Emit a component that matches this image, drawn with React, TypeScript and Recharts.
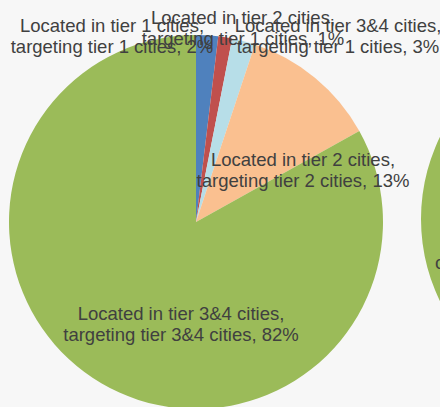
import React from "react";
import { PieChart, Pie, Cell } from "recharts";

// Data
const categories = [
  "Located in tier 1 cities, targeting tier 1 cities",
  "Located in tier 2 cities, targeting tier 1 cities",
  "Located in tier 3&4 cities, targeting tier 1 cities",
  "Located in tier 2 cities, targeting tier 2 cities",
  "Located in tier 3&4 cities, targeting tier 3&4 cities",
];
const values = [1.9, 1.2, 2.0, 11.8, 83.1];
const labelLines: string[][] = [
  ["Located in tier 1 cities,", "targeting tier 1 cities, 2%"],
  ["Located in tier 2 cities,", "targeting tier 1 cities, 1%"],
  ["Located in tier 3&4 cities,", "targeting tier 1 cities, 3%"],
  ["Located in tier 2 cities,", "targeting tier 2 cities, 13%"],
  ["Located in tier 3&4 cities,", "targeting tier 3&4 cities, 82%"],
];
// second (clipped) pie on the right
const secondCategories = ["Second pie"];
const secondValues = [100];
const secondLabel = "cities,";

// Styles
const COLORS = ["#4F81BD", "#C0504D", "#B7DEE8", "#FAC090", "#9BBB59"];
const LABEL_OFFSETS = [
  [-84, -186],
  [47, -194.5],
  [142, -186.5],
  [107, -52.5],
  [-15, 101.5],
];
const FONT = "'Liberation Sans', Arial, sans-serif";
const FONT_SIZE = 18.5;
const TEXT_COLOR = "#404040";

const data = categories.map((name, i) => ({ name, value: values[i] }));
const data2 = secondCategories.map((name, i) => ({ name, value: secondValues[i] }));

const renderLabel = (props: any) => {
  const { cx, cy, index } = props;
  const [dx, dy] = LABEL_OFFSETS[index];
  const lines = labelLines[index];
  const x = cx + dx;
  const y = cy + dy;
  return (
    <text
      x={x}
      y={y}
      textAnchor="middle"
      fill={TEXT_COLOR}
      fontFamily={FONT}
      fontSize={FONT_SIZE}
    >
      <tspan x={x} y={y - 10.5} dominantBaseline="central">
        {lines[0]}
      </tspan>
      <tspan x={x} y={y + 10.5} dominantBaseline="central">
        {lines[1]}
      </tspan>
    </text>
  );
};

const renderLabel2 = (props: any) => {
  const { cx, cy } = props;
  return (
    <text
      x={cx - 173}
      y={cy + 43}
      textAnchor="start"
      dominantBaseline="central"
      fill={TEXT_COLOR}
      fontFamily={FONT}
      fontSize={FONT_SIZE}
    >
      {secondLabel}
    </text>
  );
};

export default function App() {
  return (
    <div style={{ width: 440, height: 407, background: "#f7f7f7" }}>
      <style>{"body{margin:0;background:#f7f7f7;}"}</style>
      <PieChart width={440} height={407} margin={{ top: 0, right: 0, bottom: 0, left: 0 }}>
        <Pie
          data={data2}
          dataKey="value"
          nameKey="name"
          cx={608}
          cy={219}
          outerRadius={187}
          startAngle={90}
          endAngle={-270}
          stroke="none"
          isAnimationActive={false}
          label={renderLabel2}
          labelLine={false}
        >
          {data2.map((_, i) => (
            <Cell key={i} fill={COLORS[4]} />
          ))}
        </Pie>
        <Pie
          data={data}
          dataKey="value"
          nameKey="name"
          cx={196}
          cy={222}
          outerRadius={187}
          startAngle={90}
          endAngle={-270}
          stroke="none"
          isAnimationActive={false}
          label={renderLabel}
          labelLine={false}
        >
          {data.map((_, i) => (
            <Cell key={i} fill={COLORS[i]} />
          ))}
        </Pie>
      </PieChart>
    </div>
  );
}
